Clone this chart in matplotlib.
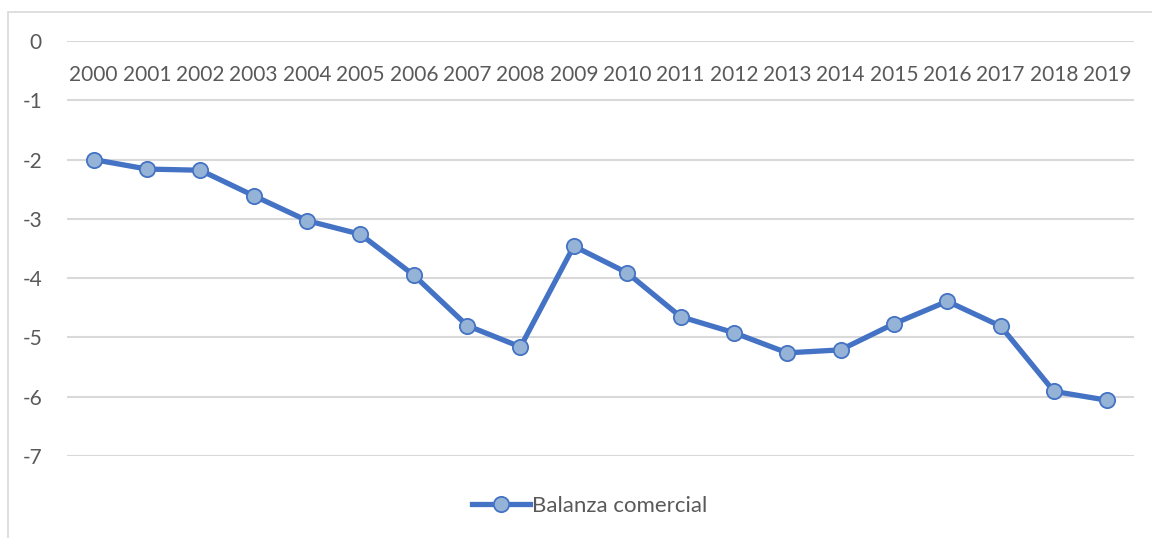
import matplotlib.pyplot as plt
from matplotlib.patches import Rectangle

years = [str(y) for y in range(2000, 2020)]
balanza = [-2.00, -2.16, -2.18, -2.61, -3.03, -3.26, -3.95, -4.80, -5.16, -3.46,
           -3.91, -4.65, -4.92, -5.26, -5.21, -4.77, -4.39, -4.81, -5.91, -6.06]
yticks = [0, -1, -2, -3, -4, -5, -6, -7]

plt.rcParams['font.family'] = ['Lato', 'DejaVu Sans']
txt = '#595959'
grid = '#D9D9D9'

fig = plt.figure(figsize=(11.52, 5.38), dpi=100)
ax = fig.add_axes([67 / 1152, 1 - 456 / 538, (1134 - 67) / 1152, (456 - 41) / 538])

# chart area border (cropped on the right and bottom)
fig.patches.append(Rectangle((8 / 1152, -0.1), 1.2, 1.1 - 12 / 538,
                             transform=fig.transFigure, fill=False,
                             edgecolor=grid, linewidth=1.2))

x = list(range(len(years)))
ax.plot(x, balanza, color='#4472C4', linewidth=3.8, marker='o', markersize=11,
        markerfacecolor='#95B3D7', markeredgecolor='#4472C4', markeredgewidth=1.3,
        label='Balanza comercial', zorder=3, solid_joinstyle='round')

ax.set_xlim(-0.5, len(years) - 0.5)
ax.set_ylim(-7, 0)
ax.set_yticks(yticks)
ax.set_yticklabels([str(v) for v in yticks])
ax.yaxis.grid(True, color=grid, linewidth=1.5)
ax.set_axisbelow(True)

# category labels sit just under the zero line, as Excel does
ax.set_xticks(x)
ax.set_xticklabels(years)
ax.spines['bottom'].set_position(('data', 0))
for s in ax.spines.values():
    s.set_visible(False)
ax.tick_params(axis='x', length=0, pad=17, labelsize=15, labelcolor=txt)
ax.tick_params(axis='y', length=0, pad=18, labelsize=15, labelcolor=txt)

fig.legend(loc='center', bbox_to_anchor=(590 / 1152, 1 - 506 / 538), frameon=False,
           fontsize=16, labelcolor=txt, handlelength=2.6, handletextpad=0.1)

fig.savefig('out.png', dpi=100)
